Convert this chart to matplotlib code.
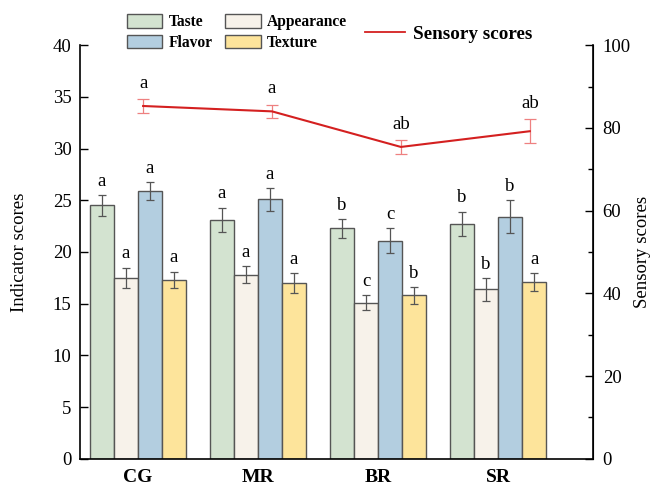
import numpy as np
import matplotlib.pyplot as plt
from matplotlib.patches import Patch
from matplotlib.lines import Line2D
from matplotlib.ticker import MultipleLocator

plt.rcParams['font.family'] = ['Liberation Serif', 'DejaVu Serif']

groups = ['CG', 'MR', 'BR', 'SR']
names = ['Taste', 'Appearance', 'Flavor', 'Texture']
colors = ['#d3e3d0', '#f7f2ea', '#b3cee0', '#fde49b']

means = {
    'Taste':      [24.5, 23.1, 22.3, 22.7],
    'Appearance': [17.5, 17.8, 15.1, 16.4],
    'Flavor':     [25.9, 25.1, 21.1, 23.4],
    'Texture':    [17.3, 17.0, 15.8, 17.1],
}
errs = {
    'Taste':      [1.0, 1.2, 0.9, 1.2],
    'Appearance': [1.0, 0.8, 0.7, 1.1],
    'Flavor':     [0.9, 1.1, 1.2, 1.6],
    'Texture':    [0.8, 1.0, 0.8, 0.9],
}
letters = {
    'Taste':      ['a', 'a', 'b', 'b'],
    'Appearance': ['a', 'a', 'c', 'b'],
    'Flavor':     ['a', 'a', 'c', 'b'],
    'Texture':    ['a', 'a', 'b', 'a'],
}

sensory = [85.3, 84.0, 75.4, 79.2]
sensory_err = [1.7, 1.6, 1.6, 2.9]
sensory_letters = ['a', 'a', 'ab', 'ab']

fig = plt.figure(figsize=(6.61, 4.86), dpi=100)
ax = fig.add_axes([0.121, 0.056, 0.776, 0.851])

x = np.arange(len(groups))
w = 0.2
for k, n in enumerate(names):
    xs = x + (k - 1.5) * w
    ax.bar(xs, means[n], w, color=colors[k], edgecolor='#555555', linewidth=1.0,
           yerr=errs[n], error_kw=dict(ecolor='#555555', elinewidth=0.9, capsize=3, capthick=0.9))
    for xi, m, e, t in zip(xs, means[n], errs[n], letters[n]):
        ax.text(xi, m + e + 0.5, t, ha='center', va='bottom', fontsize=13.5)

ax.set_xlim(-0.483, 3.79)
ax.set_ylim(0, 40)
ax.yaxis.set_major_locator(MultipleLocator(5))
ax.set_xticks(x)
ax.set_xticklabels(groups, fontsize=14, fontweight='bold')
ax.tick_params(axis='x', length=0, pad=7)
ax.tick_params(axis='y', direction='in', length=6, labelsize=13.5, width=1, pad=6)
ax.set_ylabel('Indicator scores', fontsize=13.5, labelpad=18)
ax.spines['top'].set_visible(False)
for s in ['left', 'bottom']:
    ax.spines[s].set_linewidth(1.2)

# sensory score line on its own axes
ax2 = ax.twinx()
ax3 = ax2.twiny()
ax3.set_xlim(-0.49, 3.49)
ax3.set_ylim(0, 100)
ax3.errorbar(x, sensory, yerr=sensory_err, color='#d42020', linewidth=1.5,
             ecolor='#ee8080', elinewidth=0.9, capsize=4, capthick=0.9)
for xi, m, e, t in zip(x, sensory, sensory_err, sensory_letters):
    ax3.text(xi, m + e + 1.8, t, ha='center', va='bottom', fontsize=13.5)
ax3.set_xticks([])
ax2.set_ylim(0, 100)
ax2.yaxis.set_major_locator(MultipleLocator(20))
ax2.yaxis.set_minor_locator(MultipleLocator(10))
ax2.tick_params(axis='y', which='major', direction='in', length=6, labelsize=13.5, width=1, pad=7)
ax2.tick_params(axis='y', which='minor', direction='in', length=3.5, width=1)
ax2.set_ylabel('Sensory scores', fontsize=13.5, labelpad=2)
for a in (ax2, ax3):
    for s in ['top', 'left', 'bottom']:
        a.spines[s].set_visible(False)
    a.spines['right'].set_linewidth(1.2)
ax3.spines['right'].set_visible(False)

handles = [Patch(facecolor=colors[k], edgecolor='#555555', label=names[k]) for k in [0, 2, 1, 3]]
fig.legend(handles=handles, ncol=2, loc='upper left', bbox_to_anchor=(0.175, 0.993),
           frameon=False, prop=dict(weight='bold', size=11.2), handlelength=2.3,
           handleheight=0.95, labelspacing=0.3, columnspacing=0.8, handletextpad=0.4,
           borderpad=0.2)
fig.legend(handles=[Line2D([], [], color='#d42020', linewidth=1.3, label='Sensory scores')],
           loc='upper left', bbox_to_anchor=(0.532, 0.975), frameon=False,
           prop=dict(weight='bold', size=13.8), handlelength=2.1, handletextpad=0.4,
           borderpad=0.2)

fig.savefig('out.png', dpi=100)
